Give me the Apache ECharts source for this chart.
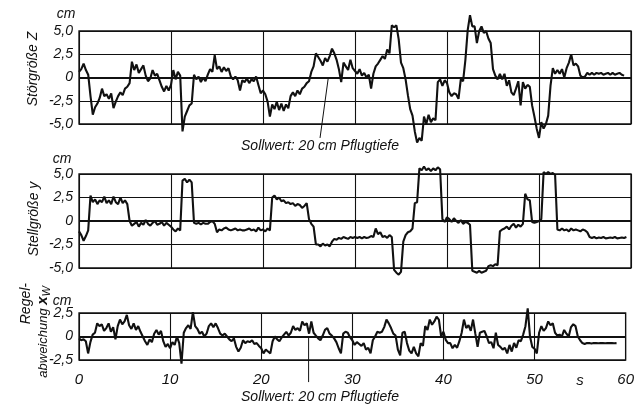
<!DOCTYPE html>
<html>
<head>
<meta charset="utf-8">
<script src="https://cdn.jsdelivr.net/npm/echarts@6/dist/echarts.min.js"></script>
<style>
  html, body { margin: 0; padding: 0; background: #fff; }
  #main { width: 637px; height: 407px; }
</style>
</head>
<body>
<div id="main"></div>
<script>
// sample step of the recorder traces, seconds
const STEP = 0.25;

// Störgröße Z (cm), one row per second
const storZ = [
  0.6, 0.9, 1.5, 0.8,   0.3, -2.0, -4.0, -3.2,   -2.8, -2.2, -1.2, -2.0,   -1.8, -2.3, -1.7, -3.3,
  -2.6, -2.0, -1.6, -1.9,   -1.2, -1.0, -0.6, 1.7,   0.8, 1.4, 0.5, 0.9,   1.3, 0.2, -0.4, -0.1,
  0.8, 0.2, 0.4, -0.3,   -1.0, -1.5, -0.9, -1.4,   -0.8, 0.8, -0.2, 0.6,   0.2, -5.8, -4.2, -3.6,
  -3.0, -2.8, 0.3, -0.2,   0.1, -0.5, 0.0, -0.4,   0.3, 0.9, 0.6, 2.4,   0.9, 1.2, 0.6, 1.1,
  0.7, 1.0, 0.1, -0.2,   0.1, -0.3, -1.4, -0.3,   -0.5, -0.1, -0.6, -0.2,   -0.4, 0.1, -0.8, -1.7,
  -1.4, -1.8, -2.6, -4.2,   -2.9, -3.4, -2.6, -3.5,   -2.8, -3.6, -2.9, -3.3,   -2.0, -1.6, -2.0, -1.4,
  -1.8, -1.2, -1.0, -0.6,   -0.4, 0.6, 1.2, 2.6,   2.2, 1.8, 1.3, 2.1,   1.7, 2.3, 3.1, 2.6,
  1.9, 0.9, -0.5, 1.6,   1.2, 0.8, 1.9, 1.0,   0.7, 0.4, 0.9, 0.2,   0.5, 0.0, 0.3, -1.2,
  0.4, 1.2, 1.5, 1.9,   2.3, 2.0, 3.0, 2.6,   5.6, 5.4, 5.6, 4.1,   1.6, 1.0, -0.2, -1.9,
  -3.4, -4.1, -5.8, -7.0,   -6.5, -6.8, -4.2, -5.0,   -4.0, -4.8, -4.4, -4.6,   -0.5, -0.2, -0.9, -0.3,
  -0.6, -1.6, -2.0, -1.7,   -1.8, -2.3, -0.2, -0.4,   1.9, 5.1, 6.7, 5.5,   5.5, 3.7, 5.0, 5.5,
  4.8, 5.0, 4.2, 3.7,   0.9, 0.2, -0.2, 0.4,   -0.2, 0.4, -0.9, -0.3,   -1.6, -1.9, -1.2, -0.4,
  -3.0, -0.5, -1.2, -0.8,   -1.0, -3.0, -4.2, -5.5,   -6.5, -4.8, -5.5, -5.0,   -4.1, -0.9, 1.0, 0.4,
  0.8, 0.4, 0.9, 0.0,   1.0, 1.6, 2.5, 1.3,   1.5, 1.2, 0.2, 0.0,   0.1, 0.5, 0.3, 0.5,
  0.3, 0.5, 0.4, 0.5,   0.3, 0.4, 0.5, 0.3,   0.5, 0.3, 0.4, 0.5,   0.3, 0.2
];

// Stellgröße y (cm)
const stellY = [
  -1.1, -1.5, -2.1, -1.6,   -1.0, 2.7, 2.0, 2.3,   1.8, 2.2, 2.0, 2.6,   1.9, 2.2, 1.8, 2.6,
  2.0, 1.8, 2.5, 1.9,   2.2, 1.8, 0.0, -0.5,   -0.3, -0.1, -0.6, -0.2,   -0.4, 0.1, -0.3, -0.5,
  -0.2, 0.0, -0.4, -0.3,   -0.1, -0.5, -0.2, -0.4,   -0.6, -0.9, -1.1, -0.8,   -1.0, 4.3, 4.5, 4.1,
  4.4, 4.1, -0.2, -0.3,   -0.2, -0.35, -0.2, -0.3,   -0.3, -0.1, 0.0, -0.3,   -1.2, -0.9, -1.0, -0.8,
  -0.7, -0.9, -1.0, -0.9,   -0.8, -1.0, -0.9, -1.0,   -1.0, -0.9, -0.8, -1.0,   -0.9, -1.1, -0.7, -1.0,
  -0.9, -1.1, -0.8, -1.0,   2.5, 2.7, 2.3, 2.5,   2.1, 2.2, 1.9, 2.0,   1.8, 1.9, 1.6, 1.8,
  1.7, 1.4, 1.6, 1.9,   0.2, -0.3, -0.6, -2.5,   -2.5, -2.7, -2.4, -2.6,   -2.5, -2.7, -2.2, -1.9,
  -2.0, -1.8, -1.9, -1.7,   -1.8, -1.9, -1.7, -1.8,   -1.7, -1.8, -1.7, -1.85,   -1.7, -1.8, -1.75, -1.6,
  -1.7, -0.8, -1.4, -1.2,   -1.7, -1.6, -1.8, -1.5,   -1.7, -5.2, -5.5, -5.7,   -5.4, -2.2, -1.5, -1.2,
  -1.1, -0.8, 1.9, 2.0,   5.6, 5.4, 5.8, 5.4,   5.6, 5.3, 5.6, 5.4,   5.7, 5.5, 0.2, -0.1,
  0.4, 0.2, -0.1, 0.3,   0.0, -0.2, 0.1, -0.3,   -0.1, -0.2, -0.4, -5.3,   -5.4, -5.5, -5.3, -5.5,
  -5.4, -5.3, -4.8, -4.7,   -4.8, -4.6, -4.7, -1.1,   -0.9, -0.8, -0.6, -0.9,   -0.5, -0.3, -0.7, -0.4,
  -0.6, -0.3, 2.9, 2.3,   2.2, -0.1, -0.2, -0.1,   0.0, 0.2, 5.2, 5.0,   5.2, 5.0, 5.1, 4.9,
  -0.9, -1.0, -0.8, -1.0,   -0.9, -1.1, -0.8, -1.0,   -0.9, -1.0, -1.1, -0.9,   -1.0, -1.2, -1.7, -1.8,
  -1.7, -1.85, -1.75, -1.8,   -1.7, -1.85, -1.8, -1.75,   -1.8, -1.7, -1.85, -1.8,   -1.75, -1.8, -1.7
];

// Regelabweichung xW (cm)
const regelXW = [
  -0.2, -0.4, -0.3, -0.5,   -1.8, -0.6, 0.2, 0.4,   1.4, 1.1, 1.3, 0.6,   0.9, 1.4, 0.5, 1.0,
  -0.3, 1.1, 1.8, 1.3,   1.6, 2.3, 1.2, 0.8,   1.4, 0.7, 1.1, 0.5,   0.0, -0.5, -0.9, -0.3,
  -0.6, 0.3, 0.7, 0.2,   0.6, -0.5, -1.1, -0.8,   -1.25, -0.6, -0.9, 0.0,   -0.7, -2.9, 0.4, 0.9,
  1.2, 0.8, 2.6, 1.1,   0.8, 0.3, 0.5, 0.0,   0.3, 1.1, 1.4, 1.0,   1.4, 0.9, 0.3, 0.1,
  0.3, 0.0, -0.3, -0.5,   -0.2, -1.1, -1.6, -1.2,   -0.4, -0.7, -0.5, -0.6,   -0.4, -0.8, -0.7, -1.0,
  -1.25, -1.8, -1.4, -1.6,   -1.8, -0.5, 0.0, -0.3,   -0.5, -0.1, 0.2, 0.5,   0.1, 0.4, 1.1, 0.7,
  0.9, 0.6, 1.6, 1.2,   1.4, 0.3, 1.6, 0.4,   0.1, -0.2, -0.4, 0.1,   0.7, 0.9, 0.3, 0.1,
  -0.2, -0.6, -1.25, -1.8,   0.3, 0.5, 0.4, -0.1,   -0.4, -0.9, -0.6, -0.8,   -1.0, -0.7, -1.4, -1.2,
  -1.8, -0.4, 0.0, 0.5,   0.4, 0.5, 1.0, 1.8,   1.4, 0.9, 0.3, 0.1,   -1.4, -2.0, 0.4, 0.5,
  -0.7, -1.5, -1.8, -1.1,   -1.8, -2.1, -0.7, -1.0,   1.1, 0.7, 1.8, 1.25,   1.6, 2.1, 1.8, 0.0,
  0.5, -0.35, -0.7, -0.7,   -1.25, -0.9, -1.2, -0.5,   0.4, 1.8, 0.9, 1.2,   0.6, 1.8, 0.3, -1.1,
  0.4, 0.5, 0.6, 0.0,   -0.7, -0.6, -1.25, 0.4,   -0.9, -1.1, -1.4, -1.2,   -1.8, -0.9, -1.6, -0.7,
  -1.2, -0.4, -0.5, 0.2,   1.1, 3.0, 0.0, -1.1,   -1.3, -1.8, 0.4, 1.1,   0.6, 0.9, 1.6, 1.2,
  1.4, 0.4, 0.1, 0.2,   0.0, 0.7, 0.3, 0.0,   1.0, 1.3, 1.1, 0.0,   -0.4, -0.7, -0.8, -0.7,
  -0.7, -0.75, -0.7, -0.7,   -0.72, -0.7, -0.7, -0.72,   -0.7, -0.7, -0.7, -0.72,   -0.7
];

// time axis ticks (s)
const xTicks = [0, 10, 20, 30, 40, 50, 60];
const sollwertText = 'Sollwert: 20 cm Pflugtiefe';
const setpointTime = 25.2;

const INK = '#111';
const FONT = "'Liberation Sans Narrow', 'Liberation Sans', sans-serif";

function pairs(arr) {
    return arr.map(function (v, i) { return [i * STEP, v]; });
}

function fmt(v) {
    if (v === 0) return '0';
    return String(v.toFixed(1)).replace('.', ',');
}

const grids = [
    {left: 79, top: 31, width: 552, height: 93},
    {left: 79, top: 174, width: 552, height: 94},
    {left: 79, top: 313, width: 552, height: 47}
].map(function (g) {
    g.show = true;
    g.borderColor = INK;
    g.borderWidth = 1.3;
    g.backgroundColor = 'transparent';
    return g;
});

function xAxis(i, labels) {
    return {
        type: 'value', gridIndex: i, min: xTicks[0], max: xTicks[xTicks.length - 1], interval: 10,
        axisLine: {show: false}, axisTick: {show: false},
        splitLine: {show: true, lineStyle: {color: INK, width: 1.1}},
        axisLabel: {
            show: labels, margin: 12, color: INK, fontFamily: FONT, fontStyle: 'italic', fontSize: 15
        }
    };
}

function yAxis(i, lim) {
    return {
        type: 'value', gridIndex: i, min: -lim, max: lim, interval: 2.5,
        axisLine: {show: false}, axisTick: {show: false},
        splitLine: {show: true, lineStyle: {color: INK, width: 1.1}},
        axisLabel: {
            margin: 6, color: INK, fontFamily: FONT, fontStyle: 'italic', fontSize: 14,
            formatter: fmt
        }
    };
}

function trace(i, data) {
    return {
        type: 'line', xAxisIndex: i, yAxisIndex: i, data: pairs(data),
        showSymbol: false, clip: false, animation: false,
        lineStyle: {color: INK, width: 2.1},
        markLine: {
            silent: true, symbol: 'none', label: {show: false},
            lineStyle: {color: INK, width: 2, type: 'solid'},
            data: [{yAxis: 0}]
        }
    };
}

const chart = echarts.init(document.getElementById('main'));

chart.setOption({
    backgroundColor: '#fff',
    animation: false,
    grid: grids,
    xAxis: [xAxis(0, false), xAxis(1, false), xAxis(2, true)],
    yAxis: [yAxis(0, 5), yAxis(1, 5), yAxis(2, 2.5)],
    series: [trace(0, storZ), trace(1, stellY), trace(2, regelXW)]
});

function px(gi, t, v) {
    return chart.convertToPixel({gridIndex: gi}, [t, v]);
}

function label(x, y, text, size, extra) {
    return Object.assign({
        type: 'text', x: x, y: y, silent: true,
        style: {
            text: text, fill: INK, fontFamily: FONT, fontStyle: 'italic', fontSize: size,
            align: 'center', verticalAlign: 'middle'
        }
    }, extra || {});
}

// leader lines for the setpoint notes
const lead0 = px(0, 26.2, -6.5), lead1 = px(0, 27.1, 0);
const mark0 = px(2, setpointTime, 0), mark1 = px(2, setpointTime, -4.85);
const sPos = px(2, 55, -2.5);

chart.setOption({
    graphic: [
        label(33, 69, 'Störgröße Z', 14, {rotation: Math.PI / 2}),
        label(34, 219, 'Stellgröße y', 14, {rotation: Math.PI / 2}),
        {
            type: 'text', x: 26, y: 283, rotation: Math.PI / 2, silent: true,
            style: {text: 'Regel-', fill: INK, fontFamily: FONT, fontStyle: 'italic', fontSize: 14,
                align: 'right', verticalAlign: 'middle'}
        },
        {
            type: 'text', x: 43, y: 286, rotation: Math.PI / 2, silent: true,
            style: {
                text: '{a|abweichung }{x|x}{w|W}', align: 'right', verticalAlign: 'middle',
                rich: {
                    a: {fill: INK, fontFamily: FONT, fontStyle: 'italic', fontSize: 13},
                    x: {fill: INK, fontFamily: FONT, fontStyle: 'italic', fontWeight: 'bold', fontSize: 15},
                    w: {fill: INK, fontFamily: FONT, fontStyle: 'italic', fontSize: 11, padding: [7, 0, 0, 0]}
                }
            }
        },
        label(66, 14, 'cm', 14),
        label(62, 159, 'cm', 14),
        label(62, 301, 'cm', 14),
        label(320, 146, sollwertText, 14),
        label(320, 397, sollwertText, 14),
        label(sPos[0], 381, 's', 15),
        {
            type: 'line', silent: true,
            shape: {x1: lead0[0], y1: lead0[1], x2: lead1[0], y2: lead1[1]},
            style: {stroke: INK, lineWidth: 1}
        },
        {
            type: 'line', silent: true,
            shape: {x1: mark0[0], y1: mark0[1], x2: mark1[0], y2: mark1[1]},
            style: {stroke: INK, lineWidth: 1}
        }
    ]
});
</script>
</body>
</html>
